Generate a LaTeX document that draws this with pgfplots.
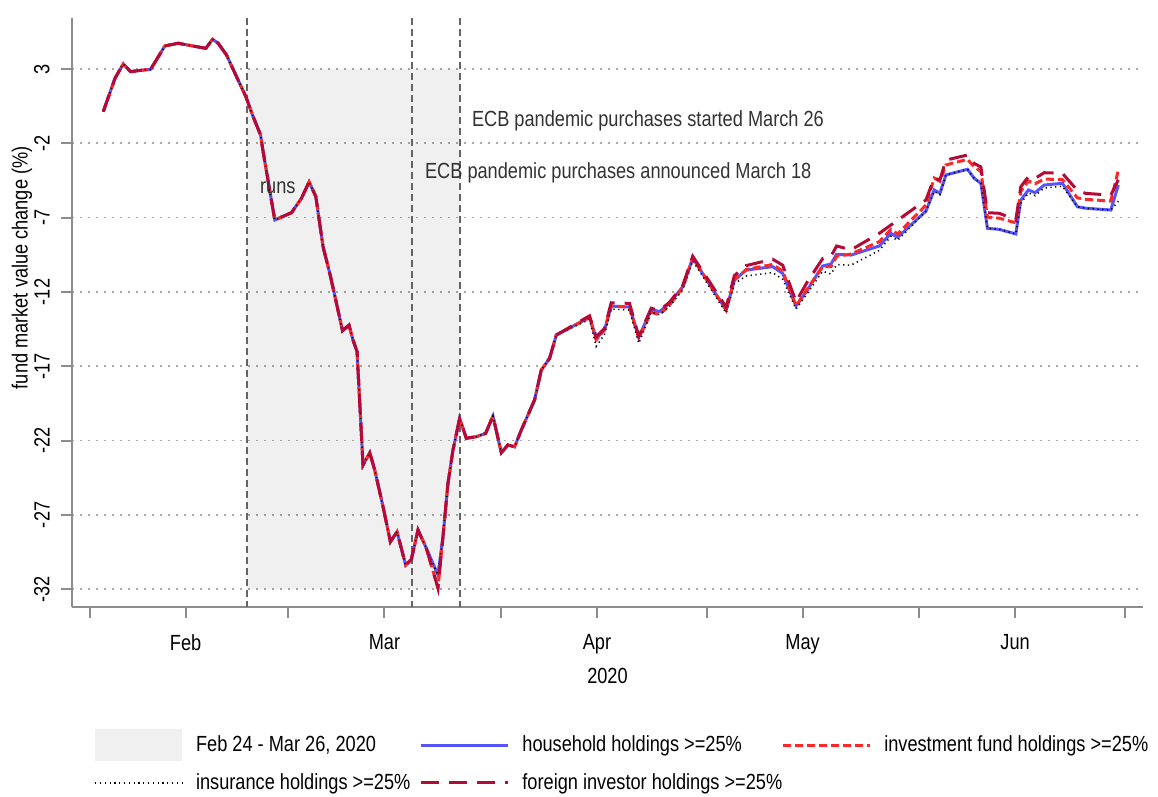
\documentclass[border=0pt]{standalone}
\usepackage{pgfplots}
\pgfplotsset{compat=1.18}
\usepackage{pgfplotstable}
\usepackage{fontspec}
\setmainfont{Liberation Sans}[FakeStretch=0.83]
\definecolor{hhblue}{RGB}{85,85,255}
\definecolor{invred}{RGB}{255,40,40}
\definecolor{forred}{RGB}{180,10,55}
\definecolor{vgray}{RGB}{100,100,100}
\definecolor{axgray}{RGB}{140,140,140}
\definecolor{gridgray}{RGB}{170,170,170}
\definecolor{txt}{RGB}{50,50,50}

\pgfplotstableread{
d hh inv ins for
-12.01 0.13 0.13 0.13 0.13
-10.30 2.37 2.37 2.37 2.37
-9.09 3.34 3.34 3.34 3.34
-8.02 2.82 2.82 2.82 2.82
-6.66 2.90 2.90 2.90 2.90
-5.10 2.98 2.98 2.98 2.98
-3.02 4.55 4.55 4.55 4.55
-1.08 4.73 4.73 4.73 4.73
1.60 4.50 4.50 4.50 4.50
2.96 4.39 4.39 4.39 4.39
3.93 5.00 5.00 5.00 5.00
4.75 4.73 4.73 4.73 4.73
5.97 3.94 3.94 3.94 3.94
7.43 2.48 2.48 2.48 2.48
8.79 1.14 1.14 1.14 1.14
9.76 -0.10 -0.10 -0.10 -0.10
10.93 -1.44 -1.44 -1.44 -1.44
11.31 -2.57 -2.57 -2.57 -2.57
13.01 -7.16 -7.16 -7.16 -7.16
15.45 -6.67 -6.67 -6.67 -6.67
16.90 -5.70 -5.70 -5.70 -5.70
18.01 -4.60 -4.60 -4.60 -4.60
18.99 -5.58 -5.58 -5.58 -5.58
20.05 -8.96 -8.96 -8.96 -8.96
21.03 -10.75 -10.75 -10.75 -10.75
22.01 -12.77 -12.77 -12.77 -12.77
22.88 -14.61 -14.61 -14.61 -14.61
23.84 -14.23 -14.23 -14.23 -14.23
24.42 -15.24 -15.24 -15.24 -15.24
25.01 -16.02 -16.02 -16.02 -16.02
25.88 -23.65 -23.65 -23.65 -23.65
26.86 -22.82 -22.82 -22.82 -22.82
27.59 -23.99 -23.99 -23.99 -23.99
28.80 -26.45 -26.45 -26.45 -26.45
29.87 -28.81 -28.81 -28.81 -28.81
30.84 -28.14 -28.14 -28.14 -28.14
32.10 -30.38 -30.38 -30.38 -30.38
32.93 -29.99 -29.99 -29.99 -29.99
33.90 -28.02 -28.02 -28.02 -28.02
35.12 -29.25 -29.25 -29.25 -29.25
36.81 -31.05 -31.90 -31.05 -31.93
37.54 -28.47 -28.47 -28.47 -28.47
38.27 -24.88 -24.88 -24.88 -24.88
39.00 -22.64 -22.64 -22.64 -22.64
39.97 -20.51 -20.51 -20.51 -20.51
40.95 -21.85 -21.85 -21.85 -21.85
42.41 -21.74 -21.74 -21.74 -21.74
43.76 -21.52 -21.52 -21.52 -21.52
44.83 -20.35 -20.35 -20.35 -20.35
46.05 -22.82 -22.82 -22.82 -22.82
47.01 -22.30 -22.30 -22.30 -22.30
47.99 -22.42 -22.42 -22.42 -22.42
48.97 -21.29 -21.29 -21.29 -21.29
50.90 -19.27 -19.27 -19.27 -19.27
51.88 -17.26 -17.26 -17.26 -17.26
53.09 -16.47 -16.47 -16.47 -16.47
54.07 -14.90 -14.90 -14.90 -14.90
58.92 -13.71 -13.71 -13.85 -13.61
59.89 -15.12 -15.22 -15.67 -15.02
61.10 -14.56 -14.56 -14.86 -14.46
62.08 -12.95 -12.95 -13.15 -12.73
64.75 -13.02 -13.02 -13.22 -12.77
66.10 -15.06 -15.10 -15.46 -15.00
67.91 -13.17 -13.37 -13.37 -13.10
69.12 -13.33 -13.53 -13.53 -13.25
70.58 -12.77 -12.90 -12.97 -12.70
72.52 -11.65 -11.70 -11.85 -11.55
73.97 -9.72 -9.72 -9.90 -9.60
78.84 -13.22 -13.22 -13.42 -13.02
80.05 -11.20 -11.20 -11.45 -10.90
81.76 -10.53 -10.50 -10.93 -10.23
85.63 -10.30 -10.15 -10.70 -9.80
87.09 -10.75 -10.60 -11.15 -10.20
89.04 -12.95 -12.95 -13.15 -12.65
90.69 -11.87 -11.80 -12.10 -11.32
92.92 -10.26 -10.30 -10.61 -9.76
94.14 -10.12 -10.30 -10.80 -9.60
94.96 -9.47 -9.60 -10.17 -8.91
97.06 -9.52 -9.45 -10.20 -9.17
101.18 -8.91 -8.62 -9.21 -8.06
102.88 -8.06 -7.80 -8.26 -7.50
103.85 -8.33 -8.10 -8.53 -7.18
107.99 -6.56 -6.16 -6.56 -5.81
109.19 -5.14 -4.34 -5.24 -4.34
110.03 -5.36 -4.56 -5.46 -4.46
110.90 -4.13 -3.46 -4.13 -3.13
114.05 -3.75 -3.08 -3.75 -2.79
115.03 -4.36 -3.60 -4.36 -3.36
116.00 -4.69 -3.89 -4.69 -3.59
116.96 -7.72 -6.97 -7.72 -6.67
118.67 -7.79 -7.04 -7.79 -6.71
121.10 -8.10 -7.35 -8.10 -7.15
121.83 -5.82 -5.22 -6.02 -4.92
122.94 -5.14 -4.54 -5.34 -4.24
123.91 -5.32 -4.72 -5.52 -4.36
125.23 -4.81 -4.41 -5.01 -3.98
127.89 -4.69 -4.44 -4.89 -4.02
130.08 -6.27 -5.67 -6.27 -5.17
131.30 -6.37 -5.77 -6.37 -5.37
134.95 -6.49 -5.89 -6.49 -5.49
136.05 -4.81 -3.81 -5.90 -4.46
}\data

\begin{document}
\fontsize{11}{13}\selectfont
\begin{tikzpicture}
\path[use as bounding box] (-36bp,-95bp) rectangle (543bp,303.5bp);
\begin{axis}[
  at={(0,0)}, anchor=south west,
  scale only axis, width=535.5bp, height=294.5bp,
  xmin=-16.57, xmax=139.65, ymin=-33.2, ymax=6.43,
  axis x line*=bottom, axis y line*=left,
  axis line style={axgray, line width=1bp, -},
  xtick={-14,0,15,29,46,60,76,90,107,121,137},
  xticklabels={,Feb,,Mar,,Apr,,May,,Jun,},
  ytick={-32,-27,-22,-17,-12,-7,-2,3},
  tick align=outside, major tick length=5.5bp,
  tick style={axgray, line width=1bp},
  yticklabel style={rotate=90, anchor=south, inner sep=0pt, yshift=5.5bp},
  xticklabel style={inner sep=0pt, yshift=-8bp, anchor=north},
  /pgf/number format/assume math mode=true,
  ymajorgrids,
  major grid style={gridgray, line width=0.8bp, dash pattern=on 0.8bp off 3.2bp},
  clip=false,
  xlabel={2020},
  xlabel style={at={(axis description cs:0.5,-0.117)}, anchor=center},
  ylabel={fund market value change (\%)},
  ylabel style={at={(axis description cs:-0.0467,0.576)}, anchor=center},
  legend image code/.code={\draw[#1] (0bp,0bp) -- (43.5bp,0bp);},
  legend style={at={(axis description cs:0.015,-0.2003)}, anchor=north west,
    draw=none, fill=none, legend columns=3, legend cell align=left,
    /tikz/every odd column/.append style={column sep=4.5bp},
    /tikz/column 2/.style={column sep=2.5bp},
    /tikz/column 4/.style={column sep=-2.5bp},
    row sep=4bp},
]
\addplot[fill=black, fill opacity=0.059, draw=none,
  legend image code/.code={\fill[black, fill opacity=0.059] (0bp,-8bp) rectangle (43.5bp,8bp);}]
  coordinates {(8.93,3) (39.97,3) (39.97,-32) (8.93,-32)} -- cycle;
\addlegendentry{Feb 24 - Mar 26, 2020}
\addplot[vgray, line width=1bp, dash pattern=on 3.5bp off 2bp, forget plot] coordinates {(8.93,6.43) (8.93,-33.2)};
\addplot[vgray, line width=1bp, dash pattern=on 3.5bp off 2bp, forget plot] coordinates {(32.98,6.43) (32.98,-33.2)};
\addplot[vgray, line width=1bp, dash pattern=on 3.5bp off 2bp, forget plot] coordinates {(39.97,6.43) (39.97,-33.2)};
\addplot[hhblue, line width=1.5bp] table[x=d, y=hh] {\data};
\addlegendentry{household holdings >=25\%}
\addplot[invred, line width=1.5bp, dash pattern=on 4bp off 2bp] table[x=d, y=inv] {\data};
\addlegendentry{investment fund holdings >=25\%}
\addplot[black, line width=0.8bp, dash pattern=on 0.6bp off 1.8bp] table[x=d, y=ins] {\data};
\addlegendentry{insurance holdings >=25\%}
\addplot[forred, line width=1.5bp, dash pattern=on 9bp off 5bp] table[x=d, y=for] {\data};
\addlegendentry{foreign investor holdings >=25\%}
\node[txt] at (axis cs:13.45,-5.01) {runs};
\node[txt, anchor=west, inner sep=0pt] at (axis cs:41.72,-0.50) {ECB pandemic purchases started March 26};
\node[txt, anchor=west, inner sep=0pt] at (axis cs:34.87,-4.0) {ECB pandemic purchases announced March 18};
\end{axis}
\end{tikzpicture}
\end{document}
